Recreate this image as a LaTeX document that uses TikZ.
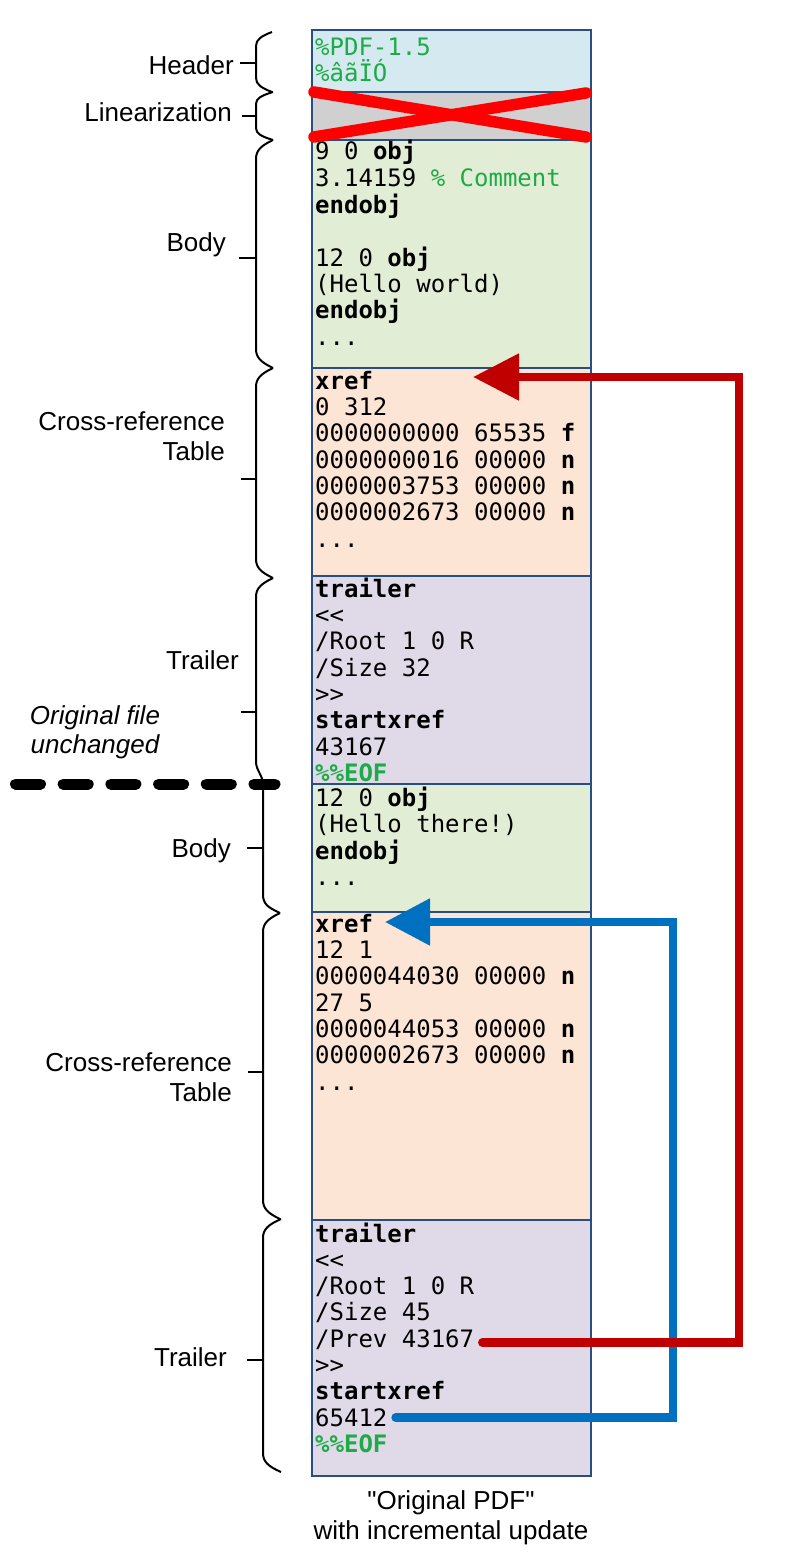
\documentclass[tikz,border=0pt]{standalone}
\usepackage{fontspec}
\setmainfont{Liberation Sans}
\setmonofont{DejaVu Sans Mono}
\usetikzlibrary{arrows.meta,calc}
\definecolor{hdrfill}{HTML}{D4EAF0}
\definecolor{linfill}{HTML}{D0D0D0}
\definecolor{bodyfill}{HTML}{E2EDD5}
\definecolor{xreffill}{HTML}{FCE5D4}
\definecolor{trlfill}{HTML}{E0DAE8}
\definecolor{boxline}{HTML}{284E82}
\definecolor{codegreen}{HTML}{1FAA48}
\definecolor{arrred}{HTML}{C00000}
\definecolor{arrblue}{HTML}{0070C0}
\definecolor{xred}{HTML}{FF0000}
\newcommand\cl[3]{\node[code] (#1) at (315,#2) {#3};}
\newcommand\bracebit[5]{%
  \draw[brc] (#2,#3) .. controls ({#1+5},{#3+#5*0.3}) and (#1,{#3+#5*0.55}) .. (#1,{#3+#5})
    -- (#1,{#4-#5}) .. controls (#1,{#4-#5*0.55}) and ({#1+5},{#4-#5*0.3}) .. (#2,#4);}
\begin{document}
\begin{tikzpicture}[x=1pt,y=-1pt,
  blk/.style={draw=boxline, line width=2pt, anchor=north west, minimum width=279pt, inner sep=0pt, outer sep=0pt},
  code/.style={anchor=base west, inner sep=0pt, font=\fontsize{24}{26}\ttfamily},
  lbl/.style={anchor=base east, inner sep=0pt, font=\fontsize{26}{30}\selectfont},
  clbl/.style={anchor=base, inner sep=0pt, font=\fontsize{26}{30}\selectfont},
  brc/.style={draw=black, line width=2pt},
  tick/.style={draw=black, line width=2pt},
  redarrow/.style={draw=arrred, line width=8.5pt, line cap=round, -{Triangle[length=46pt,width=45pt]}},
  bluearrow/.style={draw=arrblue, line width=8.5pt, line cap=round, -{Triangle[length=45pt,width=45pt]}},
  cross/.style={draw=xred, line width=11.5pt, line cap=round},
  sep/.style={draw=black, line width=11pt, line cap=round, dash pattern=on 25pt off 22.7pt}]
\useasboundingbox (0,0) rectangle (789,1557);

% blocks
\node[blk, fill=hdrfill, minimum height=62pt] (hdr) at (312,30) {};
\node[blk, fill=linfill, minimum height=48pt] (lin) at (312,92) {};
\node[blk, fill=bodyfill, minimum height=228pt] (bodyA) at (312,140) {};
\node[blk, fill=xreffill, minimum height=208pt] (xrefA) at (312,368) {};
\node[blk, fill=trlfill, minimum height=208pt] (trlA) at (312,576) {};
\node[blk, fill=bodyfill, minimum height=128pt] (bodyB) at (312,784) {};
\node[blk, fill=xreffill, minimum height=308pt] (xrefB) at (312,912) {};
\node[blk, fill=trlfill, minimum height=256pt] (trlB) at (312,1220) {};

% header
\cl{h1}{56}{\color{codegreen}\%PDF-1.5}
\cl{h2}{82}{\color{codegreen}\%âãÏÓ}
% body 1
\cl{b1}{160}{9 0 \textbf{obj}}
\cl{b2}{186.5}{3.14159 {\color{codegreen}\% Comment}}
\cl{b3}{213}{\textbf{endobj}}
\cl{b4}{266}{12 0 \textbf{obj}}
\cl{b5}{292}{(Hello world)}
\cl{b6}{318.5}{\textbf{endobj}}
\cl{b7}{345}{...}
% xref 1
\cl{xa1}{389}{\textbf{xref}}
\cl{xa2}{415}{0 312}
\cl{xa3}{441.5}{0000000000 65535 \textbf{f}}
\cl{xa4}{468}{0000000016 00000 \textbf{n}}
\cl{xa5}{494}{0000003753 00000 \textbf{n}}
\cl{xa6}{520.5}{0000002673 00000 \textbf{n}}
\cl{xa7}{547}{...}
% trailer 1
\cl{ta1}{597}{\textbf{trailer}}
\cl{ta2}{623}{\textless\textless}
\cl{ta3}{649.5}{/Root 1 0 R}
\cl{ta4}{676}{/Size 32}
\cl{ta5}{702}{\textgreater\textgreater}
\cl{ta6}{728.5}{\textbf{startxref}}
\cl{ta7}{755}{43167}
\cl{ta8}{781}{\textbf{\color{codegreen}\%\%EOF}}
% body 2
\cl{bb1}{806}{12 0 \textbf{obj}}
\cl{bb2}{832}{(Hello there!)}
\cl{bb3}{859}{\textbf{endobj}}
\cl{bb4}{885}{...}
% xref 2
\cl{xb1}{932}{\textbf{xref}}
\cl{xb2}{958}{12 1}
\cl{xb3}{984.5}{0000044030 00000 \textbf{n}}
\cl{xb4}{1011}{27 5}
\cl{xb5}{1037}{0000044053 00000 \textbf{n}}
\cl{xb6}{1063.5}{0000002673 00000 \textbf{n}}
\cl{xb7}{1090}{...}
% trailer 2
\cl{tb1}{1242}{\textbf{trailer}}
\cl{tb2}{1268}{\textless\textless}
\cl{tb3}{1294}{/Root 1 0 R}
\cl{tb4}{1320.5}{/Size 45}
\cl{prev}{1347}{/Prev 43167}
\cl{tb6}{1373}{\textgreater\textgreater}
\cl{tb7}{1399.5}{\textbf{startxref}}
\cl{sx}{1426}{65412}
\cl{tb9}{1452}{\textbf{\color{codegreen}\%\%EOF}}

% red cross over linearization
\draw[cross] (314,92) -- (586,137);
\draw[cross] (314,137) -- (586,93);

% labels
\node[lbl] (lhdr) at (234,74.5) {Header};
\node[lbl] (llin) at (232,122) {Linearization};
\node[lbl] (lbodyA) at (226,251) {Body};
\node[lbl] (lxrefA1) at (225,430) {Cross-reference};
\node[lbl] (lxrefA2) at (225,460) {Table};
\node[lbl] (ltrlA) at (239,669) {Trailer};
\node[clbl] (orig1) at (95,724) {\itshape Original file};
\node[clbl] (orig2) at (95,753) {\itshape unchanged};
\node[lbl] (lbodyB) at (231,857) {Body};
\node[lbl] (lxrefB1) at (232,1071) {Cross-reference};
\node[lbl] (lxrefB2) at (232,1101) {Table};
\node[lbl] (ltrlB) at (227,1366) {Trailer};
\node[clbl] (cap1) at (451,1509) {\textquotedbl Original PDF\textquotedbl};
\node[clbl] (cap2) at (451,1539) {with incremental update};

% braces
\bracebit{256}{272}{32}{92}{14}
\draw[tick] (240,63) -- (256,63);
\bracebit{256}{273}{92}{140}{12}
\draw[tick] (242,116) -- (256,116);
\bracebit{256}{273}{140}{368}{19}
\draw[tick] (239,258) -- (256,258);
\bracebit{256}{273}{368}{578}{19}
\draw[tick] (241,479) -- (256,479);
\draw[brc] (273,578) .. controls (261,583.7) and (256,588.5) .. (256,597)
  -- (256,762) .. controls (256,770) and (263,776) .. (263,784);
\draw[tick] (241,712) -- (256,712);
\draw[brc] (263,784) -- (263,894) .. controls (263,904.5) and (268,907.3) .. (280,913);
\draw[tick] (247,848) -- (263,848);
\bracebit{263}{280}{913}{1219}{19}
\draw[tick] (248,1072) -- (263,1072);
\bracebit{263}{281}{1219}{1472}{19}
\draw[tick] (247,1360) -- (263,1360);

% separator
\draw[sep] (15.5,784) -- (275,784);

% connectors
\coordinate (bluetip) at (385,922);
\coordinate (redtip) at (473,377);
\draw[bluearrow] ($(sx.base east)+(8,-8.5)$) -| (673,922) -- (bluetip);
\draw[redarrow] ($(prev.base east)+(8,-4.5)$) -| (739,377) -- (redtip);
\end{tikzpicture}
\end{document}
